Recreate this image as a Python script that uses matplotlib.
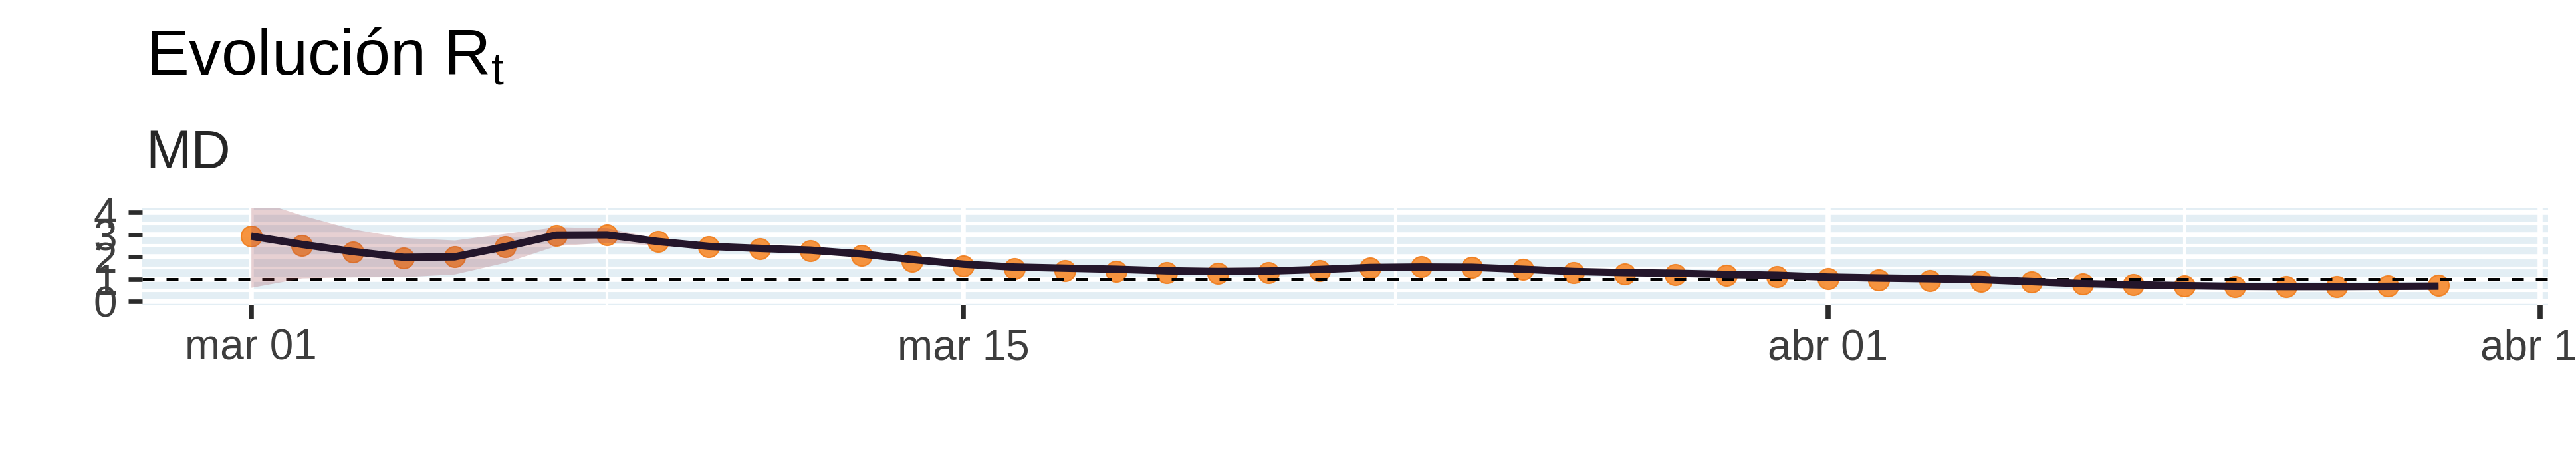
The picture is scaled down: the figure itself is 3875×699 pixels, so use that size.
import numpy as np
import matplotlib
matplotlib.use("Agg")
import matplotlib.pyplot as plt
import matplotlib.dates as mdates
from datetime import datetime, timedelta

plt.rcParams['font.family'] = ['Liberation Sans', 'DejaVu Sans']
plt.rcParams['mathtext.fontset'] = 'custom'
plt.rcParams['mathtext.rm'] = 'Liberation Sans'

# =========================================================
# Data
# =========================================================

start = datetime(2020, 3, 1)
n_days = 44

rt_points = [2.93, 2.50, 2.22, 1.96, 2.00, 2.46, 2.96, 2.98, 2.68, 2.46,
             2.36, 2.26, 2.06, 1.79, 1.59, 1.47, 1.39, 1.35, 1.29, 1.27,
             1.29, 1.37, 1.51, 1.57, 1.54, 1.44, 1.29, 1.22, 1.21, 1.17,
             1.11, 1.01, 0.97, 0.94, 0.91, 0.86, 0.79, 0.74, 0.69, 0.65,
             0.65, 0.67, 0.69, 0.71]

rt_line = [2.93, 2.56, 2.24, 1.98, 2.00, 2.46, 2.98, 2.99, 2.69, 2.47,
           2.38, 2.30, 2.13, 1.88, 1.67, 1.54, 1.49, 1.44, 1.37, 1.34,
           1.36, 1.43, 1.52, 1.54, 1.53, 1.44, 1.34, 1.29, 1.26, 1.21,
           1.17, 1.09, 1.05, 1.02, 0.98, 0.89, 0.80, 0.75, 0.71, 0.68,
           0.67, 0.67, 0.68, 0.69]

rt_upper = [4.60, 3.87, 3.25, 2.86, 2.75, 3.05, 3.35, 3.30, 2.82, 2.57,
            2.47, 2.38, 2.21, 1.96, 1.75, 1.62, 1.57, 1.52, 1.45, 1.42,
            1.44, 1.51, 1.60, 1.62, 1.61, 1.52, 1.42, 1.37, 1.34, 1.29,
            1.25, 1.17, 1.13, 1.10, 1.06, 0.97, 0.88, 0.83, 0.79, 0.76,
            0.75, 0.75, 0.76, 0.78]

rt_lower = [0.63, 1.05, 1.09, 1.10, 1.22, 1.75, 2.50, 2.65, 2.52, 2.37,
            2.29, 2.22, 2.05, 1.80, 1.59, 1.46, 1.41, 1.36, 1.29, 1.26,
            1.28, 1.35, 1.44, 1.46, 1.45, 1.36, 1.26, 1.21, 1.18, 1.13,
            1.09, 1.01, 0.97, 0.94, 0.90, 0.81, 0.72, 0.67, 0.63, 0.60,
            0.59, 0.59, 0.60, 0.60]

x_tick_dates = [datetime(2020, 3, 1), datetime(2020, 3, 15),
                datetime(2020, 4, 1), datetime(2020, 4, 15)]
x_tick_labels = ["mar 01", "mar 15", "abr 01", "abr 15"]
x_minor_dates = [datetime(2020, 3, 8), datetime(2020, 3, 23, 12),
                 datetime(2020, 4, 8)]

y_ticks = [0, 1, 2, 3, 4]
y_minor = [0.5, 1.5, 2.5, 3.5]

dates = [start + timedelta(days=i) for i in range(n_days)]

# =========================================================
# Figure
# =========================================================

fig = plt.figure(figsize=(38.75, 6.99), dpi=100)
ax = fig.add_axes([0.0552, 0.3429, 0.9339, 0.2097])

ax.set_facecolor('#e3eef4')
for s in ax.spines.values():
    s.set_visible(False)

# points under everything, then threshold, ribbon, line
ax.scatter(dates, rt_points, s=500, color='#f7892b', alpha=0.9,
           edgecolor='#f07d1c', linewidth=1.5, zorder=3)
ax.axhline(1, color='black', lw=3.6, ls=(0, (3.6, 3.6)), zorder=4)
ax.fill_between(dates, rt_lower, rt_upper, color='#a0444f', alpha=0.25,
                lw=0, zorder=5)
ax.plot(dates, rt_line, color='#24162b', lw=8, zorder=6,
        solid_capstyle='butt')

ax.set_xlim(start - timedelta(days=2.14), start + timedelta(days=45.15))
ax.set_ylim(-0.18, 4.19)

ax.set_xticks(x_tick_dates)
ax.set_xticklabels(x_tick_labels)
ax.set_xticks(x_minor_dates, minor=True)
ax.set_yticks(y_ticks)
ax.set_yticks(y_minor, minor=True)

ax.grid(True, which='major', color='white', lw=5.5, zorder=0)
ax.grid(True, which='minor', color='white', lw=3.0, zorder=0)
ax.set_axisbelow(True)

ax.tick_params(axis='x', which='major', length=14.5, width=5.5,
               color='#2b2b2b', labelsize=46, labelcolor='#3d3d3d', pad=10)
ax.tick_params(axis='y', which='major', length=15, width=4.8,
               color='#2b2b2b', labelsize=46, labelcolor='#3d3d3d', pad=12)
ax.tick_params(which='minor', length=0)

# =========================================================
# Titles
# =========================================================

fig.text(0.0565, 0.8383, r'Evolución R$_\mathrm{t}$', fontsize=70,
         color='black', va='baseline', ha='left')
fig.text(0.0565, 0.638, 'MD', fontsize=59, color='#262626',
         va='baseline', ha='left')

fig.savefig('out.png', dpi=100)
